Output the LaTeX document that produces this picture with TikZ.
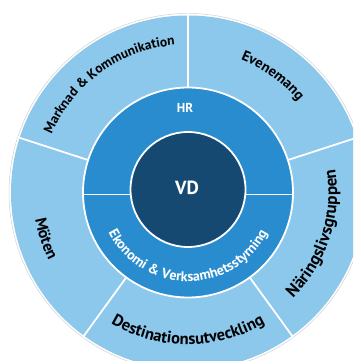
\documentclass[tikz,border=0pt]{standalone}
\usepackage{fontspec}
\setmainfont{PT Sans}
\usetikzlibrary{decorations.text}
\definecolor{ringouter}{RGB}{140,199,236}
\definecolor{ringmid}{RGB}{40,140,206}
\definecolor{ringcore}{RGB}{21,73,113}
\newcommand{\lblsize}[1]{\bfseries\fontsize{#1}{#1}\selectfont}
\begin{document}
\begin{tikzpicture}[x=1pt,y=1pt,
  sep/.style={white, line width=1.8pt},
  ringlabel/.style={decorate, decoration={text along path, text align=center, text={#1}}},
  midlabel/.style={decorate, decoration={text along path, text align=center, text color=white, text={#1}}},
  centerlabel/.style={text=white, inner sep=0pt}
]
\useasboundingbox (0,0) rectangle (353,361);
\clip (0,0) rectangle (353,361);
\fill[white] (0,0) rectangle (353,361);
\coordinate (c) at (188,168.5);

% outer ring with five sectors
\draw[black!18, line width=0.5pt] (c) circle[radius=179];
\fill[ringouter] (c) circle[radius=177];
\foreach \a in {18,90,162,234,306}
  \draw[sep] ([shift={(\a:100)}]c) -- ([shift={(\a:179)}]c);

% middle ring split in two halves
\filldraw[fill=ringmid, draw=white, line width=1.8pt] (c) circle[radius=105];
\draw[sep] ([shift={(-105,-2)}]c) -- ([shift={(105,-2)}]c);

% core
\filldraw[fill=ringcore, draw=white, line width=1.8pt] ([shift={(0,3)}]c) circle[radius=57.5];

% outer ring labels
\path[ringlabel={|\lblsize{13.5}|Marknad {\&} Kommunikation}]
  ([shift={(162:148)}]c) arc[start angle=162, end angle=90, radius=148];
\path[ringlabel={|\lblsize{14.5}|Evenemang}]
  ([shift={(90:143)}]c) arc[start angle=90, end angle=18, radius=143];
\path[ringlabel={|\lblsize{17}|Näringslivsgruppen}]
  ([shift={(306:149)}]c) arc[start angle=306, end angle=378, radius=149];
\path[ringlabel={|\lblsize{16.5}|Destinationsutveckling}]
  ([shift={(234:152)}]c) arc[start angle=234, end angle=306, radius=152];
\path[ringlabel={|\lblsize{16}|Möten}]
  ([shift={(162:155)}]c) arc[start angle=162, end angle=234, radius=155];

% middle ring labels
\path[midlabel={|\lblsize{14}|Ekonomi {\&} Verksamhetsstyrning}]
  ([shift={(180:89)}]c) arc[start angle=180, end angle=360, radius=89];
\node[centerlabel, font=\bfseries\fontsize{13}{15}\selectfont] (hr) at (185,253) {HR};
\node[centerlabel, font=\bfseries\fontsize{19}{22}\selectfont] (vd) at (187,173) {VD};
\end{tikzpicture}
\end{document}
